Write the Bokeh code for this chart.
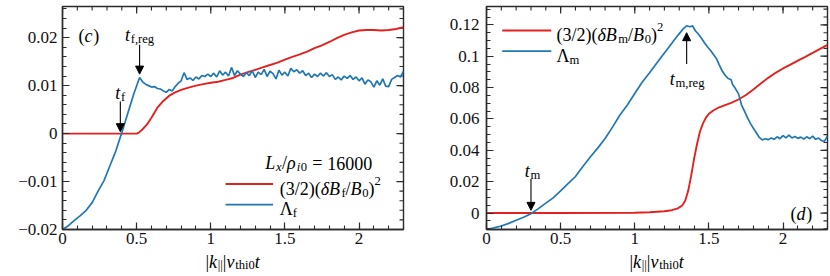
import math
from bokeh.plotting import figure
from bokeh.layouts import row, column
from bokeh.models import (Range1d, FixedTicker, LinearAxis, Label, Arrow, NormalHead,
                          CustomJSTickFormatter)
from bokeh.embed import file_html
from bokeh.resources import INLINE

# ---------------- data ----------------
# panel (c)
xc_blue = [0.00, 0.04, 0.08, 0.12, 0.16, 0.20, 0.24, 0.28, 0.32, 0.36, 0.40, 0.44, 0.48, 0.52,
           0.54, 0.56, 0.58, 0.60, 0.62, 0.64, 0.66, 0.68, 0.70, 0.72, 0.74, 0.76, 0.78, 0.80,
           0.82, 0.84, 0.86, 0.88, 0.90, 0.92, 0.94, 0.96, 0.98, 1.00, 1.02, 1.04, 1.06, 1.08,
           1.10, 1.12, 1.14, 1.16, 1.18, 1.20, 1.22, 1.24, 1.26, 1.28, 1.30, 1.32, 1.34, 1.36,
           1.38, 1.40, 1.42, 1.44, 1.46, 1.48, 1.50, 1.52, 1.54, 1.56, 1.58, 1.60, 1.62, 1.64,
           1.66, 1.68, 1.70, 1.72, 1.74, 1.76, 1.78, 1.80, 1.82, 1.84, 1.86, 1.88, 1.90, 1.92,
           1.94, 1.96, 1.98, 2.00, 2.02, 2.04, 2.06, 2.08, 2.10, 2.12, 2.14, 2.16, 2.18, 2.20,
           2.22, 2.24, 2.26, 2.28, 2.30]
lambda_f = [-0.0200, -0.0192, -0.0181, -0.0171, -0.0160, -0.0144, -0.0120, -0.0098, -0.0067, -0.0036,
            0.0002, 0.0042, 0.0082, 0.0117,
            0.0108, 0.0103, 0.0100, 0.0097, 0.0098, 0.0094, 0.0093, 0.0089, 0.0086, 0.0092, 0.0089,
            0.0098, 0.0105, 0.0110, 0.0127, 0.0113, 0.0116, 0.0111, 0.0118, 0.0114, 0.0121, 0.0119,
            0.0124, 0.0119, 0.0126, 0.0118, 0.0131, 0.0122, 0.0128, 0.0120, 0.0138, 0.0121, 0.0131,
            0.0124, 0.0119, 0.0127, 0.0121, 0.0131, 0.0117, 0.0128, 0.0123, 0.0134, 0.0119, 0.0130,
            0.0125, 0.0114, 0.0132, 0.0122, 0.0128, 0.0120, 0.0136, 0.0129, 0.0133, 0.0126, 0.0131,
            0.0121, 0.0126, 0.0117, 0.0124, 0.0119, 0.0126, 0.0120, 0.0127, 0.0119, 0.0123, 0.0113,
            0.0118, 0.0112, 0.0120, 0.0115, 0.0121, 0.0113, 0.0118, 0.0110, 0.0116, 0.0103, 0.0112,
            0.0108, 0.0097, 0.0110, 0.0101, 0.0114, 0.0099, 0.0098, 0.0113, 0.0117, 0.0121, 0.0118,
            0.0130]
xc_red = [0.00, 0.50, 0.515, 0.54, 0.57, 0.60, 0.64, 0.68, 0.72, 0.76, 0.80, 0.85, 0.90, 0.95,
          1.00, 1.05, 1.10, 1.15, 1.20, 1.25, 1.30, 1.35, 1.40, 1.45, 1.50, 1.55, 1.60, 1.65,
          1.70, 1.75, 1.80, 1.85, 1.90, 1.95, 2.00, 2.05, 2.10, 2.15, 2.20, 2.25, 2.30]
energy_f = [0.0, 0.0, 0.0002, 0.0009, 0.0019, 0.0033, 0.0054, 0.0068, 0.0079, 0.0086, 0.0091,
            0.0096, 0.0100, 0.0103, 0.0106, 0.0108, 0.0112, 0.0116, 0.0123, 0.0128, 0.0133,
            0.0138, 0.0143, 0.0148, 0.0154, 0.0160, 0.0165, 0.0171, 0.0178, 0.0184, 0.0191,
            0.0199, 0.0206, 0.0211, 0.0215, 0.0216, 0.0216, 0.0215, 0.0216, 0.0218, 0.0222]

# panel (d)
xd_blue = [0.00, 0.05, 0.10, 0.15, 0.20, 0.25, 0.30, 0.35, 0.40, 0.45, 0.50, 0.55, 0.60, 0.65,
           0.70, 0.75, 0.80, 0.85, 0.90, 0.95, 1.00, 1.05, 1.10, 1.15, 1.20, 1.25, 1.28, 1.31,
           1.33, 1.35, 1.37, 1.39, 1.41, 1.43, 1.45, 1.47, 1.49, 1.51, 1.53, 1.55, 1.57, 1.59,
           1.61, 1.63, 1.65, 1.66, 1.68, 1.70, 1.72, 1.74, 1.76, 1.78, 1.80, 1.82, 1.84, 1.86,
           1.88, 1.90, 1.92, 1.94, 1.96, 1.98, 2.00, 2.02, 2.04, 2.06, 2.08, 2.10, 2.12, 2.14,
           2.16, 2.18, 2.20, 2.22, 2.24, 2.26, 2.28, 2.30]
lambda_m = [-0.0105, -0.0095, -0.0083, -0.0066, -0.0046, -0.0027, -0.0004, 0.0028, 0.0063, 0.0097,
            0.0141, 0.0187, 0.0233, 0.0297, 0.0357, 0.0414, 0.0475, 0.0548, 0.0625, 0.0689,
            0.0762, 0.0834, 0.0894, 0.0958, 0.1021, 0.1083, 0.1121, 0.1155, 0.1178, 0.1194,
            0.1188, 0.1193, 0.1161, 0.1140, 0.1115, 0.1086, 0.1060, 0.1038, 0.1012, 0.0986,
            0.0945, 0.0905, 0.0878, 0.0858, 0.0850, 0.0820, 0.0792, 0.0760, 0.0690, 0.0650,
            0.0608, 0.0572, 0.0540, 0.0512, 0.0482, 0.0466, 0.0474, 0.0468, 0.0478, 0.0470,
            0.0486, 0.0474, 0.0494, 0.0480, 0.0497, 0.0479, 0.0488, 0.0476, 0.0484, 0.0472,
            0.0486, 0.0474, 0.0490, 0.0470, 0.0478, 0.0462, 0.0458, 0.0492]
xd_red = [0.00, 0.50, 1.00, 1.10, 1.20, 1.25, 1.29, 1.32, 1.34, 1.36, 1.38, 1.40, 1.42, 1.44,
          1.46, 1.48, 1.50, 1.53, 1.56, 1.60, 1.65, 1.70, 1.75, 1.80, 1.85, 1.90, 1.95, 2.00,
          2.05, 2.10, 2.15, 2.20, 2.25, 2.30]
energy_m = [0.0, 0.0, 0.0002, 0.0005, 0.0011, 0.0018, 0.0030, 0.0048, 0.0078, 0.0140, 0.0235,
            0.0345, 0.0440, 0.0520, 0.0572, 0.0608, 0.0633, 0.0654, 0.0670, 0.0685, 0.0702,
            0.0724, 0.0753, 0.0788, 0.0826, 0.0862, 0.0894, 0.0922, 0.0946, 0.0972, 0.0996,
            0.1021, 0.1047, 0.1072]

# ticks
x_ticks = [0, 0.5, 1, 1.5, 2]
x_tick_labels = ["0", "0.5", "1", "1.5", "2"]
x_minor = [i / 10 for i in range(0, 24)]
yc_ticks = [-0.02, -0.01, 0, 0.01, 0.02]
yc_tick_labels = ["\u22120.02", "\u22120.01", "0", "0.01", "0.02"]
yc_minor = [round(-0.02 + 0.002 * i, 4) for i in range(0, 24)]
yd_ticks = [0, 0.02, 0.04, 0.06, 0.08, 0.1, 0.12]
yd_tick_labels = ["0", "0.02", "0.04", "0.06", "0.08", "0.1", "0.12"]
yd_minor = [round(-0.01 + 0.005 * i, 4) for i in range(0, 29)]

# ---------------- styling ----------------
FONT = "Liberation Serif"
RED = "#e3211f"
BLUE = "#1f77b4"
AXC = "#2b2b2b"
TICK_FS = "17px"
TXT = 18
X_END = 2.3

ROMAN = {' ': .25, '\u00a0': .25, '(': .333, ')': .333, '/': .278, '=': .564, ',': .25, '|': .2,
         '.': .25, 'B': .667, 'f': .333, 'm': .778, 'r': .333, 'e': .444, 'g': .5, 't': .278,
         'h': .5, 'i': .278, '\u039b': .722, 'x': .5}
ITAL = {'c': .444, 'd': .5, 't': .278, 'k': .444, 'v': .444, 'L': .556, 'x': .444, 'i': .278,
        'B': .611, '\u03b4': .5, '\u03c1': .5}

FMT_CODE = """
let best = 0; let d = 1e9;
for (let i = 0; i < vals.length; i++) {
  const e = Math.abs(vals[i] - tick);
  if (e < d) { d = e; best = i; }
}
return labs[best];
"""


def width_of(s, italic, fs):
    tab = ITAL if italic else ROMAN
    return sum(tab.get(ch, 0.5) for ch in s) * fs


def rich(p, x, y, segs, size=TXT, align="left"):
    pieces = []
    off = 0.0
    for txt, st in segs:
        if st == "sp":
            off += txt * size
            continue
        italic = st in ("i", "subi")
        small = st in ("sub", "subi", "sup")
        fs = size * 0.7 if small else size
        dy = -0.22 * size if st in ("sub", "subi") else (0.42 * size if st == "sup" else 0)
        pieces.append((txt, italic, fs, off, dy))
        off += width_of(txt, italic, fs) + (0.04 * fs if italic else 0)
    shift = 0 if align == "left" else (-off / 2 if align == "center" else -off)
    for txt, italic, fs, o, dy in pieces:
        p.add_layout(Label(x=x, y=y, x_offset=o + shift, y_offset=dy, text=txt,
                           text_font=FONT, text_font_style="italic" if italic else "normal",
                           text_font_size=f"{fs:.1f}px", text_baseline="alphabetic",
                           text_align="left", text_color="black"))


def style_axis(ax, ticks, minor, labels, standoff):
    ax.ticker = FixedTicker(ticks=ticks, minor_ticks=minor)
    ax.formatter = CustomJSTickFormatter(args=dict(vals=list(ticks), labs=list(labels)),
                                         code=FMT_CODE)
    ax.major_tick_in = 7
    ax.major_tick_out = 0
    ax.minor_tick_in = 4
    ax.minor_tick_out = 0
    ax.axis_line_color = AXC
    ax.axis_line_width = 1.4
    ax.major_tick_line_color = AXC
    ax.major_tick_line_width = 1.2
    ax.minor_tick_line_color = AXC
    ax.minor_tick_line_width = 1.1
    ax.major_label_text_font = FONT
    ax.major_label_text_font_size = TICK_FS
    ax.major_label_text_color = "#111111"
    ax.major_label_standoff = standoff


def make_fig(width, mbl, mbr, yr, yticks, yminor, ylabels, ystandoff):
    p = figure(width=width, height=251, x_range=Range1d(0, X_END), y_range=Range1d(*yr),
               output_backend="svg", toolbar_location=None, x_axis_type=None, y_axis_type=None,
               min_border_left=mbl, min_border_right=mbr, min_border_top=6, min_border_bottom=22)
    p.grid.visible = False
    p.outline_line_color = AXC
    p.outline_line_width = 1.4
    p.background_fill_color = "white"
    p.border_fill_color = "white"
    xa = LinearAxis()
    style_axis(xa, x_ticks, x_minor, x_tick_labels, 3)
    p.add_layout(xa, "below")
    ya = LinearAxis()
    style_axis(ya, yticks, yminor, ylabels, ystandoff)
    p.add_layout(ya, "left")
    # mirrored inward ticks on the top and right edges
    top = yr[1]
    kw = dict(length_units="screen", line_color=AXC)
    p.ray(x=x_ticks, y=[top] * len(x_ticks), length=7, angle=-math.pi / 2, line_width=1.2, **kw)
    p.ray(x=x_minor, y=[top] * len(x_minor), length=4, angle=-math.pi / 2, line_width=1.1, **kw)
    p.ray(x=[X_END] * len(yticks), y=yticks, length=7, angle=math.pi, line_width=1.2, **kw)
    p.ray(x=[X_END] * len(yminor), y=yminor, length=4, angle=math.pi, line_width=1.1, **kw)
    return p


def make_strip(width, mbl, mbr, x_range):
    s = figure(width=width, height=25, x_range=x_range, y_range=Range1d(0, 25),
               output_backend="svg", toolbar_location=None, x_axis_type=None, y_axis_type=None,
               min_border_left=mbl, min_border_right=mbr, min_border_top=0, min_border_bottom=0)
    s.grid.visible = False
    s.outline_line_color = None
    s.background_fill_color = "white"
    s.border_fill_color = "white"
    rich(s, X_END / 2, 15, [("|", "r"), ("k", "i"), ("||", "sub"), ("|", "r"), ("v", "i"),
                            ("thi0", "sub"), ("t", "i")], size=18, align="center")
    return s


def arrow(p, xs, ys, xe, ye):
    p.add_layout(Arrow(end=NormalHead(size=8, fill_color="black", line_color="black", line_width=1),
                       x_start=xs, y_start=ys, x_end=xe, y_end=ye,
                       line_color="black", line_width=1.1))


# ---------------- panel (c) ----------------
pc = make_fig(438, 62, 35, (-0.02, 0.0265), yc_ticks, yc_minor, yc_tick_labels, 5)
pc.line(xc_red, energy_f, line_color=RED, line_width=1.9)
pc.line(xc_blue, lambda_f, line_color=BLUE, line_width=1.7)
rich(pc, 0.108, 0.0204, [("(", "r"), ("c", "i"), (")", "r")])
rich(pc, 0.52, 0.0206, [("t", "i"), ("f,reg", "sub")], align="center")
arrow(pc, 0.52, 0.0185, 0.52, 0.0124)
rich(pc, 0.39, 0.0085, [("t", "i"), ("f", "sub")], align="center")
arrow(pc, 0.39, 0.0067, 0.39, 0.0004)
rich(pc, 2.09, -0.0062, [("L", "i"), ("x", "subi"), ("/", "r"), ("\u03c1", "i"), ("i", "subi"),
                         ("0", "sub"), (0.28, "sp"), ("=", "r"), (0.28, "sp"), ("16000", "r")],
     align="right")
pc.line([1.10, 1.42], [-0.0105, -0.0105], line_color=RED, line_width=1.9)
rich(pc, 1.465, -0.0115, [("(3/2)(", "r"), ("\u03b4B", "i"), ("f", "sub"), ("/", "r"), ("B", "i"),
                          ("0", "sub"), (")", "r"), ("2", "sup")])
pc.line([1.10, 1.42], [-0.0148, -0.0148], line_color=BLUE, line_width=1.7)
rich(pc, 1.465, -0.01575, [("\u039b", "r"), ("f", "sub")])
sc = make_strip(438, 62, 35, pc.x_range)

# ---------------- panel (d) ----------------
pd_ = make_fig(392, 48, 3, (-0.0105, 0.1317), yd_ticks, yd_minor, yd_tick_labels, 7)
pd_.line(xd_red, energy_m, line_color=RED, line_width=1.9)
pd_.line(xd_blue, lambda_m, line_color=BLUE, line_width=1.7)
pd_.line([0.106, 0.437], [0.1164, 0.1164], line_color=RED, line_width=1.9)
rich(pd_, 0.472, 0.1136, [("(3/2)(", "r"), ("\u03b4B", "i"), ("m", "sub"), ("/", "r"), ("B", "i"),
                          ("0", "sub"), (")", "r"), ("2", "sup")])
pd_.line([0.106, 0.437], [0.1032, 0.1032], line_color=BLUE, line_width=1.7)
rich(pd_, 0.472, 0.1004, [("\u039b", "r"), ("m", "sub")])
rich(pd_, 1.353, 0.0857, [("t", "i"), ("m,reg", "sub")], align="center")
arrow(pd_, 1.35, 0.0951, 1.35, 0.1150)
rich(pd_, 0.31, 0.0270, [("t", "i"), ("m", "sub")], align="center")
arrow(pd_, 0.30, 0.0217, 0.30, 0.0017)
rich(pd_, 2.05, -0.0006, [("(", "r"), ("d", "i"), (")", "r")])
sd = make_strip(392, 48, 3, pd_.x_range)

layout = row(column(pc, sc), column(pd_, sd))
open("out.html", "w").write(file_html(layout, INLINE))
